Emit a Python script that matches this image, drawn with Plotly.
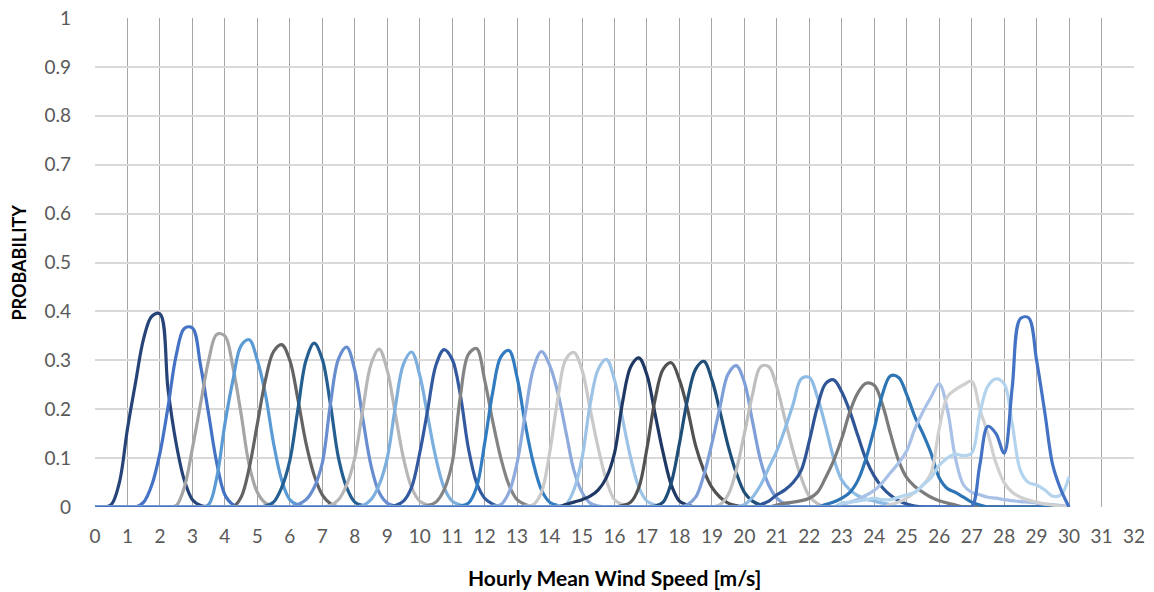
import plotly.graph_objects as go

# ---------------- data ----------------
STEP = 0.25          # spacing of the wind-speed grid [m/s]
X_LAST = 30.0        # last wind-speed value of every series

x_tick_values = list(range(0, 33))
x_tick_labels = [str(v) for v in x_tick_values]
y_tick_values = [0, 0.1, 0.2, 0.3, 0.4, 0.5, 0.6, 0.7, 0.8, 0.9, 1]
y_tick_labels = ["0", "0.1", "0.2", "0.3", "0.4", "0.5", "0.6", "0.7", "0.8", "0.9", "1"]

# each series: first wind speed of the listed values, then probabilities every 0.25 m/s
# (outside the listed span the probability is 0)
s01_start, s01 = 0.25, [0, 0.005, 0.05, 0.16, 0.255, 0.345, 0.39, 0.395, 0.24, 0.13, 0.055, 0.015, 0.003]
s02_start, s02 = 1.25, [0, 0.01, 0.045, 0.11, 0.205, 0.31, 0.365, 0.366, 0.29, 0.19, 0.09, 0.025, 0.005]
s03_start, s03 = 2.5, [0.003, 0.04, 0.12, 0.21, 0.3, 0.353, 0.35, 0.285, 0.19, 0.085, 0.03, 0.008, 0.002]
s04_start, s04 = 3.25, [0, 0.005, 0.06, 0.17, 0.26, 0.33, 0.342, 0.3, 0.23, 0.13, 0.055, 0.015, 0.004]
s05_start, s05 = 4.25, [0, 0.02, 0.08, 0.17, 0.26, 0.318, 0.332, 0.3, 0.22, 0.13, 0.065, 0.025, 0.007]
s06_start, s06 = 5.25, [0.002, 0.01, 0.04, 0.095, 0.2, 0.3, 0.335, 0.302, 0.21, 0.1, 0.04, 0.01, 0.003]
s07_start, s07 = 6.0, [0, 0.005, 0.015, 0.04, 0.09, 0.21, 0.303, 0.327, 0.28, 0.18, 0.085, 0.03, 0.008, 0.002]
s08_start, s08 = 7.25, [0.003, 0.015, 0.045, 0.1, 0.2, 0.292, 0.323, 0.28, 0.19, 0.1, 0.04, 0.012, 0.004]
s09_start, s09 = 8.25, [0.003, 0.015, 0.045, 0.1, 0.205, 0.292, 0.317, 0.27, 0.185, 0.1, 0.04, 0.012, 0.004]
s10_start, s10 = 9.25, [0.003, 0.012, 0.04, 0.11, 0.2, 0.29, 0.322, 0.302, 0.23, 0.12, 0.05, 0.018, 0.006]
s11_start, s11 = 10.25, [0.003, 0.01, 0.035, 0.09, 0.225, 0.312, 0.324, 0.26, 0.175, 0.1, 0.045, 0.015, 0.005]
s12_start, s12 = 11.25, [0.002, 0.008, 0.04, 0.13, 0.235, 0.307, 0.32, 0.265, 0.17, 0.09, 0.035, 0.01, 0.003]
s13_start, s13 = 12.25, [0.002, 0.005, 0.03, 0.09, 0.19, 0.282, 0.318, 0.29, 0.235, 0.155, 0.075, 0.03, 0.008, 0.002]
s14_start, s14 = 13.25, [0.002, 0.005, 0.03, 0.11, 0.22, 0.302, 0.316, 0.28, 0.2, 0.12, 0.055, 0.015, 0.005]
s15_start, s15 = 14.25, [0.002, 0.005, 0.035, 0.1, 0.21, 0.282, 0.302, 0.26, 0.18, 0.1, 0.04, 0.012, 0.004]
s16_start, s16 = 14.5, [0.005, 0.01, 0.015, 0.022, 0.035, 0.06, 0.11, 0.215, 0.287, 0.305, 0.27, 0.19, 0.11, 0.045, 0.012, 0.004]
s17_start, s17 = 16.25, [0.003, 0.01, 0.04, 0.12, 0.22, 0.282, 0.295, 0.26, 0.2, 0.125, 0.075, 0.04, 0.02, 0.008, 0.003]
s18_start, s18 = 17.25, [0.002, 0.01, 0.05, 0.13, 0.22, 0.282, 0.298, 0.26, 0.195, 0.125, 0.07, 0.03, 0.012, 0.004]
s19_start, s19 = 18.25, [0.005, 0.02, 0.065, 0.13, 0.205, 0.272, 0.289, 0.255, 0.175, 0.095, 0.045, 0.018, 0.006]
s20_start, s20 = 19.25, [0.005, 0.025, 0.075, 0.15, 0.23, 0.287, 0.287, 0.245, 0.18, 0.115, 0.06, 0.022, 0.007]
s21_start, s21 = 20.0, [0.005, 0.02, 0.045, 0.08, 0.115, 0.16, 0.21, 0.262, 0.265, 0.225, 0.165, 0.1, 0.055,
                        0.035, 0.023, 0.016, 0.012, 0.008, 0.005]
s22_start, s22 = 20.5, [0.005, 0.012, 0.025, 0.035, 0.05, 0.075, 0.135, 0.205, 0.252, 0.26, 0.235, 0.195, 0.145,
                        0.097, 0.063, 0.04, 0.024, 0.013, 0.006, 0.002]
s23_start, s23 = 21.0, [0.004, 0.008, 0.01, 0.013, 0.018, 0.03, 0.06, 0.095, 0.14, 0.195, 0.234, 0.253, 0.249, 0.21,
                        0.15, 0.095, 0.06, 0.042, 0.03, 0.02, 0.013, 0.008, 0.004]
s24_start, s24 = 22.5, [0.005, 0.01, 0.018, 0.03, 0.055, 0.1, 0.16, 0.23, 0.268, 0.265, 0.23, 0.185, 0.15, 0.11,
                        0.06, 0.038, 0.03, 0.02, 0.01, 0.004]
s25_start, s25 = 23.0, [0.005, 0.01, 0.016, 0.024, 0.034, 0.05, 0.07, 0.09, 0.115, 0.16, 0.195, 0.225, 0.252, 0.2,
                        0.1, 0.045, 0.03, 0.025, 0.02, 0.018, 0.015, 0.013, 0.011, 0.01, 0.008, 0.006, 0.005,
                        0.003, 0.002]
s26_start, s26 = 24.5, [0.005, 0.01, 0.018, 0.03, 0.045, 0.07, 0.16, 0.225, 0.24, 0.25, 0.257, 0.2, 0.15, 0.09,
                        0.05, 0.03, 0.02, 0.014, 0.01, 0.006, 0.004, 0.002]
s27_start, s27 = 23.0, [0.008, 0.01, 0.012, 0.015, 0.018, 0.015, 0.015, 0.02, 0.025, 0.03, 0.045, 0.06, 0.085, 0.1,
                        0.108, 0.105, 0.11, 0.19, 0.247, 0.262, 0.252, 0.17, 0.075, 0.05, 0.045, 0.035, 0.022,
                        0.025, 0.062]
s28_start, s28 = 27.0, [0.0, 0.085, 0.165, 0.15, 0.11, 0.245, 0.385, 0.387, 0.3, 0.195, 0.085, 0.035, 0.0]

series_colors = [
    "#264478", "#4472C4", "#A5A5A5", "#5B9BD5", "#636363", "#255E91",
    "#698ED0", "#B7B7B7", "#7CAFDD", "#335AA1", "#848484", "#327DC2",
    "#8FAADC", "#C9C9C9", "#9DC3E6", "#203864", "#525252", "#1F4E79",
    "#7F9FD9", "#BFBFBF", "#8DBBE4", "#2F5597", "#7B7B7B", "#2E75B6",
    "#A9C0E7", "#D0D0D0", "#B4D4EE", "#4472C4",
]

series_list = [
    (s01_start, s01), (s02_start, s02), (s03_start, s03), (s04_start, s04),
    (s05_start, s05), (s06_start, s06), (s07_start, s07), (s08_start, s08),
    (s09_start, s09), (s10_start, s10), (s11_start, s11), (s12_start, s12),
    (s13_start, s13), (s14_start, s14), (s15_start, s15), (s16_start, s16),
    (s17_start, s17), (s18_start, s18), (s19_start, s19), (s20_start, s20),
    (s21_start, s21), (s22_start, s22), (s23_start, s23), (s24_start, s24),
    (s25_start, s25), (s26_start, s26), (s27_start, s27), (s28_start, s28),
]

# ---------------- figure ----------------
n_points = int(round(X_LAST / STEP)) + 1
x_grid = [i * STEP for i in range(n_points)]

fig = go.Figure()
for (start, vals), color in zip(series_list, series_colors):
    y = [0.0] * n_points
    i0 = int(round(start / STEP))
    for k, v in enumerate(vals):
        y[i0 + k] = v
    fig.add_trace(go.Scatter(
        x=x_grid, y=y, mode="lines",
        line=dict(color=color, width=3.2, shape="spline", smoothing=1),
        showlegend=False, hoverinfo="skip", cliponaxis=True,
    ))

tick_font = dict(family="Lato", size=19, color="#595959")

fig.update_layout(
    width=1154, height=592,
    margin=dict(l=95, r=20, t=18, b=85),
    paper_bgcolor="white", plot_bgcolor="white",
    xaxis=dict(
        range=[0, 32], tickmode="array", tickvals=x_tick_values, ticktext=x_tick_labels,
        showgrid=True, gridcolor="#A6A6A6", gridwidth=1,
        zeroline=False, showline=False, ticks="", ticklabelstandoff=16,
        tickfont=tick_font, automargin=False,
    ),
    yaxis=dict(
        range=[0, 1], tickmode="array", tickvals=y_tick_values, ticktext=y_tick_labels,
        showgrid=True, gridcolor="#D9D9D9", gridwidth=2,
        zeroline=False, showline=False, ticks="", ticklabelstandoff=23,
        tickfont=tick_font, automargin=False,
    ),
    annotations=[
        dict(text="<b>Hourly Mean Wind Speed [m/s]</b>", xref="paper", yref="paper",
             x=0.5, y=-0.145, xanchor="center", yanchor="middle", showarrow=False,
             font=dict(family="Lato", size=21, color="#000000")),
        dict(text="<b>PROBABILITY</b>", xref="paper", yref="paper",
             x=-0.074, y=0.5, xanchor="center", yanchor="middle", showarrow=False, textangle=-90,
             font=dict(family="Lato", size=18, color="#000000")),
    ],
)

fig.write_html("out.html")
